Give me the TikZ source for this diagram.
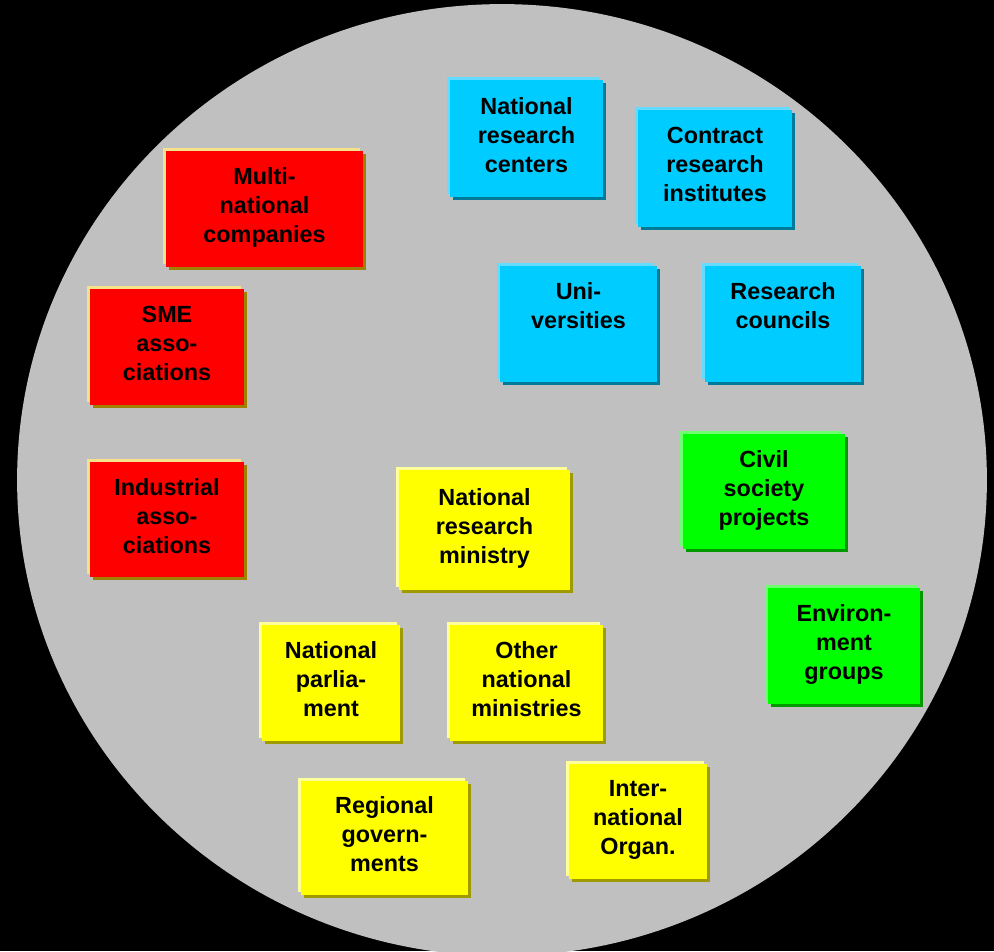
\documentclass[tikz,border=0pt]{standalone}
\usepackage{fontspec}
\setmainfont{Liberation Sans}
\usepackage{tikz}
\usetikzlibrary{shadows}
\definecolor{circlegrey}{RGB}{192,192,192}
\definecolor{industryred}{RGB}{255,0,0}
\definecolor{industrylight}{RGB}{245,226,138}
\definecolor{industrydark}{RGB}{160,128,0}
\definecolor{sciencecyan}{RGB}{0,204,255}
\definecolor{sciencelight}{RGB}{100,220,255}
\definecolor{sciencedark}{RGB}{0,122,153}
\definecolor{policyyellow}{RGB}{255,255,0}
\definecolor{policylight}{RGB}{255,255,153}
\definecolor{policydark}{RGB}{158,154,0}
\definecolor{civilgreen}{RGB}{0,255,0}
\definecolor{civillight}{RGB}{110,255,110}
\definecolor{civildark}{RGB}{0,153,0}
\tikzset{
  postit/.style={inner sep=0pt, align=center, font=\bfseries\fontsize{13.3}{16.5}\selectfont},
  industrybox/.style={postit, fill=industryred,
    general shadow={fill=industrylight, shadow xshift=-0.06cm, shadow yshift=0.06cm},
    general shadow={fill=industrydark, shadow xshift=0.06cm, shadow yshift=-0.06cm}},
  sciencebox/.style={postit, fill=sciencecyan,
    general shadow={fill=sciencelight, shadow xshift=-0.06cm, shadow yshift=0.06cm},
    general shadow={fill=sciencedark, shadow xshift=0.06cm, shadow yshift=-0.06cm}},
  policybox/.style={postit, fill=policyyellow,
    general shadow={fill=policylight, shadow xshift=-0.06cm, shadow yshift=0.06cm},
    general shadow={fill=policydark, shadow xshift=0.06cm, shadow yshift=-0.06cm}},
  civilbox/.style={postit, fill=civilgreen,
    general shadow={fill=civillight, shadow xshift=-0.06cm, shadow yshift=0.06cm},
    general shadow={fill=civildark, shadow xshift=0.06cm, shadow yshift=-0.06cm}}
}

\begin{document}
\begin{tikzpicture}[x=0.02cm, y=-0.02cm]
\useasboundingbox[fill=black] (0,0) rectangle (994,951);
\clip (0,0) rectangle (994,951);
\fill[circlegrey] (502,480) ellipse [x radius=9.7cm, y radius=9.52cm];

\node[industrybox, minimum width=3.94cm, minimum height=2.32cm] (multi) at (264.5,209) {Multi-\\national\\companies\\[-12pt]};
\node[industrybox, minimum width=3.08cm, minimum height=2.32cm] (sme) at (167,347) {SME\\asso-\\ciations\\[-12pt]};
\node[industrybox, minimum width=3.08cm, minimum height=2.30cm] (indus) at (167,519.5) {Industrial\\asso-\\ciations\\[-12pt]};

\node[sciencebox, minimum width=3.06cm, minimum height=2.34cm] (nrc) at (526.5,138.5) {National\\research\\centers\\[-12pt]};
\node[sciencebox, minimum width=3.08cm, minimum height=2.34cm] (contract) at (715,168.5) {Contract\\research\\institutes\\[-12pt]};
\node[sciencebox, minimum width=3.14cm, minimum height=2.32cm] (univ) at (578.5,324) {Uni-\\versities\\\strut\\[-12pt]};
\node[sciencebox, minimum width=3.12cm, minimum height=2.32cm] (councils) at (783,324) {Research\\councils\\\strut\\[-12pt]};

\node[civilbox, minimum width=3.24cm, minimum height=2.30cm] (civil) at (764,491.5) {Civil\\society\\projects\\[-12pt]};
\node[civilbox, minimum width=3.04cm, minimum height=2.32cm] (envir) at (844,646) {Environ-\\ment\\groups\\[-12pt]};

\node[policybox, minimum width=3.42cm, minimum height=2.40cm] (ministry) at (484.5,530) {National\\research\\ministry\\[-12pt]};
\node[policybox, minimum width=2.76cm, minimum height=2.32cm] (parl) at (331,683) {National\\parlia-\\ment\\[-12pt]};
\node[policybox, minimum width=3.06cm, minimum height=2.32cm] (othermin) at (526.5,683) {Other\\national\\ministries\\[-12pt]};
\node[policybox, minimum width=3.34cm, minimum height=2.28cm] (regional) at (384.5,838) {Regional\\govern-\\ments\\[-12pt]};
\node[policybox, minimum width=2.76cm, minimum height=2.30cm] (intorg) at (638,821.5) {Inter-\\national\\Organ.\\[-12pt]};
\end{tikzpicture}
\end{document}
